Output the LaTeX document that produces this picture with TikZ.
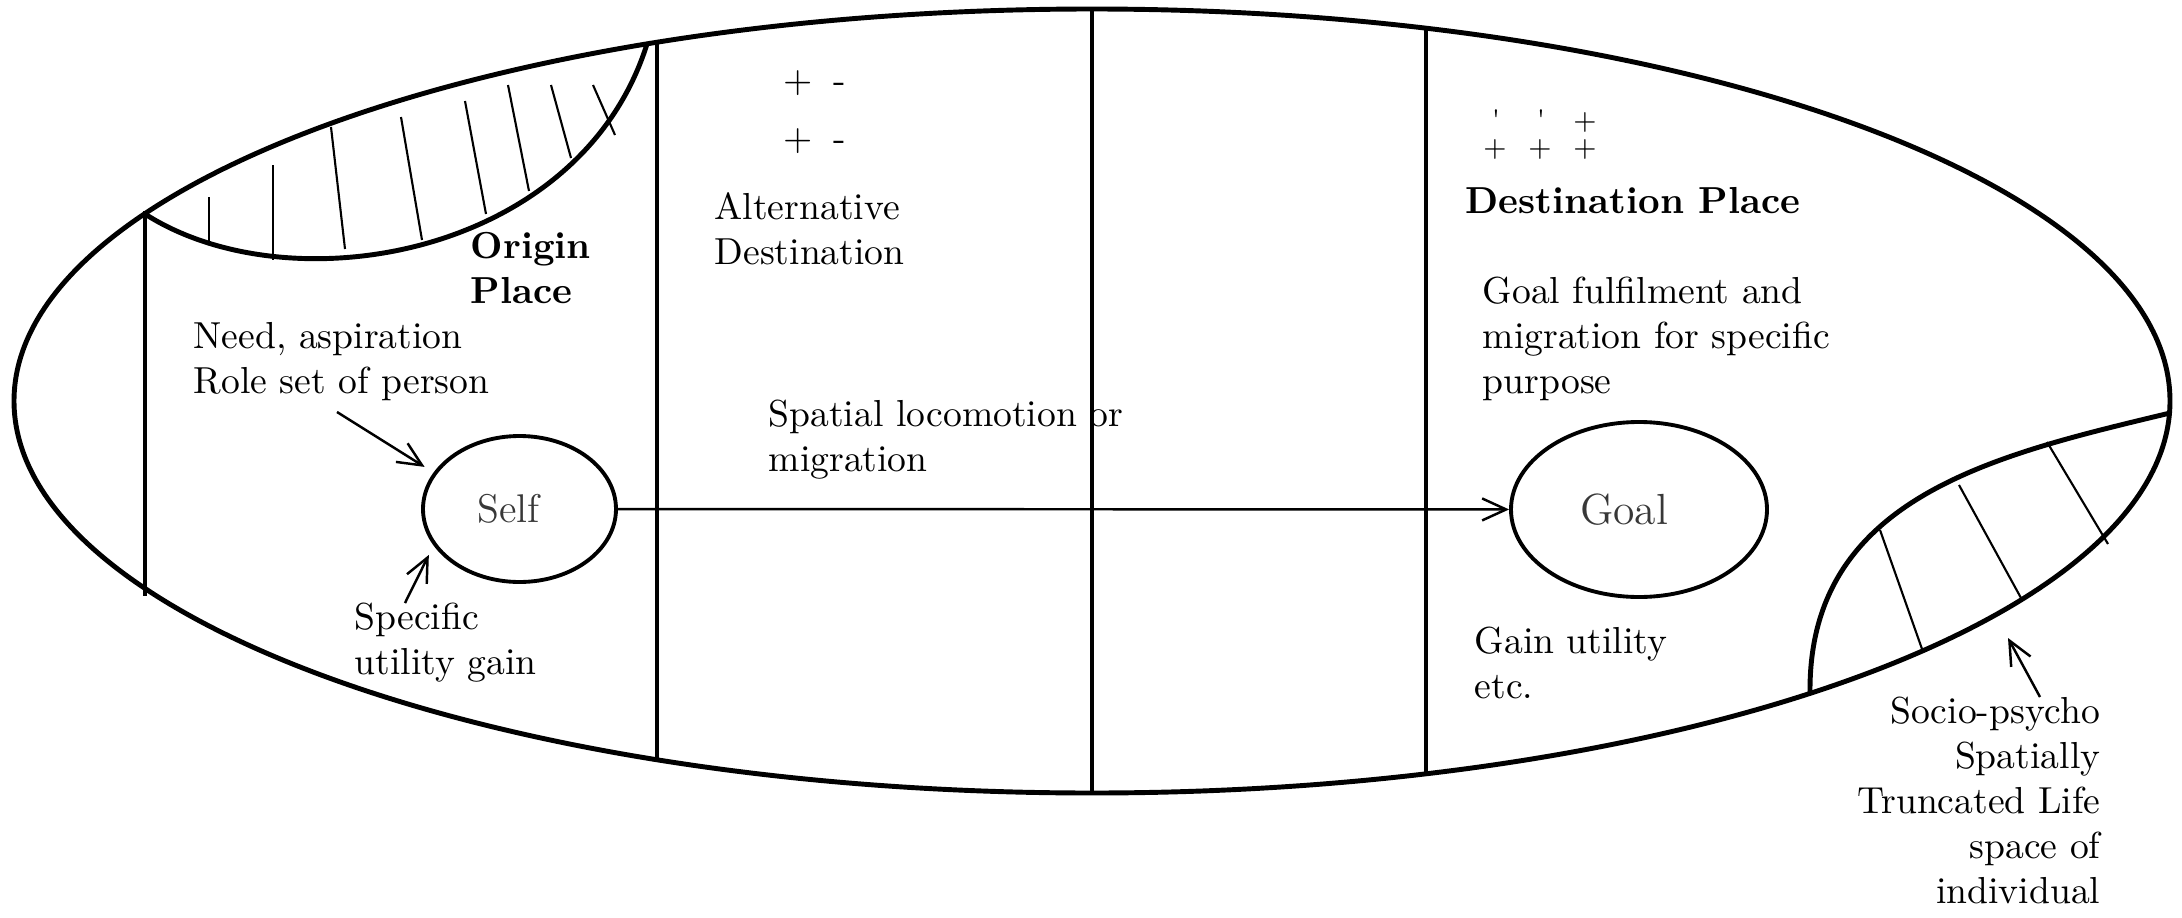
\documentclass[tikz,border=0pt]{standalone}
\usepackage{amsmath,amssymb}
\usepackage{xcolor}
\usepackage{tikz}
\usetikzlibrary{shapes.geometric,arrows.meta}

\definecolor{inkgrey}{HTML}{383838}

\begin{document}
\begin{tikzpicture}[
  txt/.style={inner sep=0, anchor=north west, align=left, font=\fontsize{10.7}{12.8}\selectfont},
  bold/.style={txt, font=\fontsize{10.7}{12.8}\selectfont\bfseries},
  sign/.style={inner sep=0, anchor=base, font=\fontsize{10.7}{12.8}\selectfont},
  smallsign/.style={sign, font=\fontsize{8}{9.6}\selectfont},
  rim/.style={line width=1.4pt},
  wall/.style={line width=1.2pt},
  hatch/.style={line width=0.6pt},
  arr/.style={-{Straight Barb[length=2.4mm,width=2.2mm]}, line width=0.7pt},
  blob/.style={ellipse, draw, line width=1.1pt, inner sep=0, text=inkgrey}
]
\useasboundingbox (0,0) rectangle (21.82,9.17);

% life space and its zones
\draw[rim] (10.92,5.16) ellipse [x radius=10.78, y radius=3.92];
\draw[wall] (1.45,7.06) -- (1.45,3.21);
\draw[wall] (6.57,8.75) -- (6.57,1.57);
\draw[wall] (10.92,9.08) -- (10.92,1.24);
\draw[wall] (14.26,8.89) -- (14.26,1.43);

% truncated parts
\draw[rim] (1.45,7.03) .. controls (2.9,6.1) and (5.8,6.6) .. (6.47,8.73);
\foreach \xa/\ya/\xb/\yb in {2.09/7.20/2.09/6.74, 2.73/7.52/2.73/6.57,
    3.31/7.90/3.45/6.68, 4.01/8.00/4.22/6.77, 4.65/8.16/4.86/7.03,
    5.08/8.32/5.29/7.26, 5.51/8.32/5.71/7.59, 5.93/8.32/6.15/7.82}
  \draw[hatch] (\xa,\ya) -- (\xb,\yb);
\draw[rim] (18.10,2.24) .. controls (18.08,4.2) and (19.95,4.62) .. (21.70,5.04);
\foreach \xa/\ya/\xb/\yb in {18.80/3.87/19.22/2.68, 19.59/4.32/20.21/3.19,
    20.47/4.75/21.08/3.73}
  \draw[hatch] (\xa,\ya) -- (\xb,\yb);

% self and goal
\node[blob, minimum width=1.93cm, minimum height=1.46cm, font=\fontsize{11.4}{13}\selectfont] (self) at (5.195,4.08) {Self\hspace*{0.22cm}};
\node[blob, minimum width=2.56cm, minimum height=1.75cm, font=\fontsize{12.4}{14}\selectfont] (goal) at (16.39,4.075) {Goal\hspace*{0.3cm}};

% labels
\node[txt] (need) at (1.93,5.95) {Need, aspiration\\Role set of person};
\node[bold] (origin) at (4.70,6.85) {Origin\\Place};
\node[txt] (spec) at (3.54,3.15) {Specific\\utility gain};
\node[txt] (alt) at (7.14,7.25) {Alternative\\Destination};
\node[txt] (spat) at (7.68,5.18) {Spatial locomotion or\\migration};
\node[bold] (dest) at (14.65,7.30) {Destination Place};
\node[txt] (purpose) at (14.82,6.41) {Goal fulfilment and\\migration for specific\\purpose};
\node[txt] (gain) at (14.74,2.91) {Gain utility\\etc.};
\node[txt, anchor=north east, align=right] (socio) at (21.01,2.21) {Socio-psycho\\Spatially\\Truncated Life\\space of\\individual};

% signs
\node[sign] (plusa) at (7.98,8.24) {+};
\node[sign] (minusa) at (8.40,8.24) {-};
\node[sign] (plusb) at (7.98,7.67) {+};
\node[sign] (minusb) at (8.40,7.67) {-};
\node[smallsign] (ticka) at (14.96,7.88) {\textquotesingle};
\node[smallsign] (tickb) at (15.41,7.88) {\textquotesingle};
\node[smallsign] (plusc) at (15.85,7.88) {+};
\foreach \x/\n in {14.95/d,15.40/e,15.85/f}
  \node[smallsign] (plus\n) at (\x,7.61) {+};

% arrows
\coordinate (needtail) at (3.37,5.05);
\coordinate (spectail) at (4.05,3.14);
\coordinate (sociotail) at (20.40,2.20);
\coordinate (lenstip) at (20.08,2.79);
\draw[arr, shorten >=3pt] (needtail) -- (self.157);
\draw[arr, shorten >=3pt] (spectail) -- (self.203);
\draw[arr] (self) -- (goal);
\draw[arr] (sociotail) -- (lenstip);
\end{tikzpicture}
\end{document}
